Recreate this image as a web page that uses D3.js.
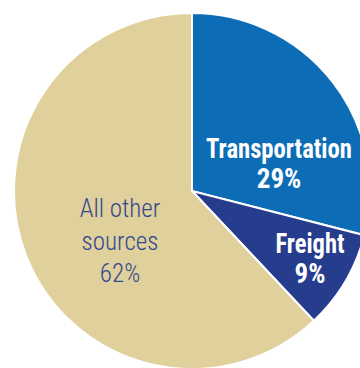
<!DOCTYPE html>
<html>
<head>
<meta charset="utf-8">
<script src="https://cdn.jsdelivr.net/npm/d3@7"></script>
<style>
html,body{margin:0;padding:0;background:#fff;}
svg{display:block;}
</style>
</head>
<body>
<svg id="chart" width="360" height="368"></svg>
<script>
const categories = ["Transportation", "Freight", "All other sources"];
const values = [29, 9, 62];
const labelLines = [["Transportation", "29%"], ["Freight", "9%"], ["All other", "sources", "62%"]];
const colors = ["#0C6DB6", "#263C8C", "#DFD09C"];

const W = 360, H = 368;
const cx = 192, cy = 191, R = 178;
const svg = d3.select("#chart");
const g = svg.append("g").attr("transform", `translate(${cx},${cy})`);

const pie = d3.pie().value(d => d.v).sort(null);
const data = pie(categories.map((c, i) => ({c, v: values[i], lines: labelLines[i], col: colors[i]})));
const arc = d3.arc().innerRadius(0).outerRadius(R);

g.selectAll("path").data(data).join("path")
  .attr("d", arc)
  .attr("fill", d => d.data.col)
  .attr("stroke", "#fff")
  .attr("stroke-width", 2)
  .attr("stroke-linejoin", "miter");

// label placement (relative offsets from center, in px)
const labelPos = [
  {x: 87, y: -33, dy: 30, bold: true, widths: [146, 0]},
  {x: 118, y: 62, dy: 30, bold: true, widths: [69, 0]},
  {x: -72, y: 26, dy: 32.5, bold: false, widths: [0, 0, 0]}
];

data.forEach((d, i) => {
  const p = labelPos[i];
  const t = g.append("text")
    .attr("text-anchor", "middle")
    .attr("font-family", p.bold ? "'Liberation Sans Narrow','Roboto Condensed','DejaVu Sans Condensed',sans-serif" : "'Roboto Condensed','Liberation Sans Narrow',Roboto,sans-serif")
    .attr("font-weight", p.bold ? 700 : 300)
    .attr("font-size", p.bold ? 27 : 25)
    .attr("fill", p.bold ? "#fff" : "#33488F");
  d.data.lines.forEach((ln, j) => {
    const ts = t.append("tspan")
      .attr("x", p.x)
      .attr("y", p.y + j * p.dy)
      .text(ln);
    if (p.widths[j]) ts.attr("textLength", p.widths[j]).attr("lengthAdjust", "spacingAndGlyphs");
  });
});
</script>
</body>
</html>
